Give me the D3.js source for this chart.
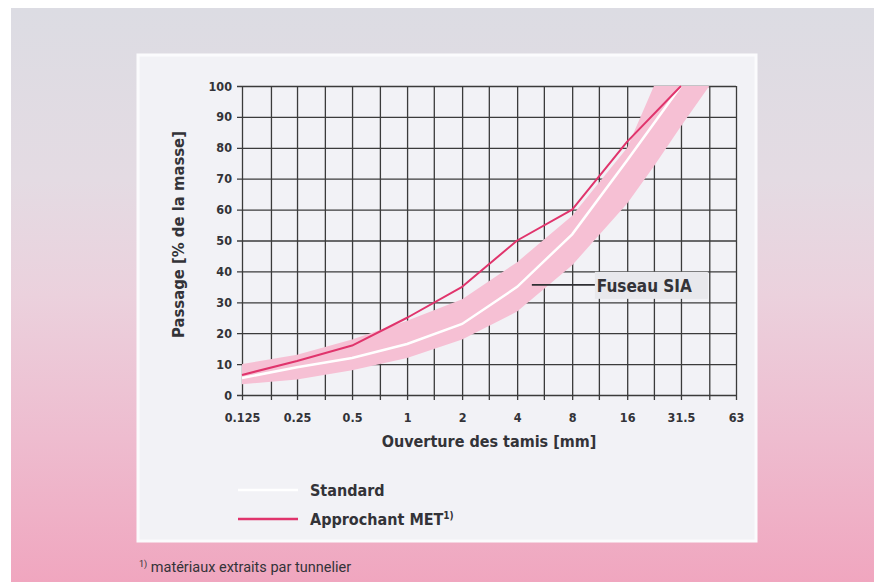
<!DOCTYPE html>
<html>
<head>
<meta charset="utf-8">
<script src="https://cdn.jsdelivr.net/npm/d3@7"></script>
<style>
    html, body { margin: 0; padding: 0; background: #ffffff; }
    svg { display: block; }
    .cond { font-family: "Liberation Sans Narrow", "DejaVu Sans Condensed", "Roboto Condensed", "Roboto", sans-serif; }
</style>
</head>
<body>
<div id="chart"></div>
<script>
// Sieve openings [mm] used for the labels and the grid
const tickSieves = [0.125, 0.25, 0.5, 1, 2, 4, 8, 16, 31.5, 63];
const tickLabels = ["0.125", "0.25", "0.5", "1", "2", "4", "8", "16", "31.5", "63"];
const gridSieves = [0.125, 0.18, 0.25, 0.355, 0.5, 0.71, 1, 1.4, 2, 2.8, 4, 5.6, 8, 11.2, 16, 22.4, 31.5, 45, 63];
const passTicks  = [0, 10, 20, 30, 40, 50, 60, 70, 80, 90, 100];

// Fuseau SIA (grading envelope)
const fuseauSieves = [0.125, 0.25, 0.5, 1, 2, 4, 8, 16, 22.4, 31.5, 45];
const fuseauLower  = [3.5, 5, 8, 12, 18, 27, 42, 62, 74, 87, 100];
const fuseauUpper  = [10, 13, 18, 24, 31, 43, 58, 80, 100, 100, 100];

// Grading curves
const curveSieves   = [0.125, 0.25, 0.5, 1, 2, 4, 8, 16, 31.5];
const standard      = [5.5, 9, 12, 16.5, 23, 35, 52, 76, 100];
const approchantMET = [6.5, 11, 16, 25, 35, 50, 60, 82, 100];

const WIDTH  = 874;
const HEIGHT = 582;
const margin = {top: 86, left: 242, right: 138, bottom: 187};
const w = WIDTH - margin.left - margin.right;
const h = HEIGHT - margin.top - margin.bottom;

const TEXT  = "#333338";
const GRID  = "#3b3b3b";
const BAND  = "#f6c0d4";
const RED   = "#e0346c";

const svg = d3.select("#chart").append("svg")
    .attr("width", WIDTH)
    .attr("height", HEIGHT);

// Page background: grey at the top, pink at the bottom
const grad = svg.append("defs").append("linearGradient")
    .attr("id", "bg")
    .attr("x1", 0).attr("y1", 0).attr("x2", 0).attr("y2", 1);
[[0, "#dcdce3"], [0.3, "#e4dbe3"], [0.5, "#ebd1dd"], [0.75, "#eebccf"], [1, "#f0a6bf"]]
    .forEach(([o, c]) => grad.append("stop").attr("offset", o).attr("stop-color", c));

svg.append("rect")
    .attr("x", 11).attr("y", 8)
    .attr("width", WIDTH - 11).attr("height", HEIGHT - 8)
    .attr("fill", "url(#bg)");

// Light panel behind the chart
svg.append("rect")
    .attr("x", 138).attr("y", 55)
    .attr("width", 618).attr("height", 486)
    .attr("fill", "#f2f2f6")
    .attr("stroke", "#fbfbfd")
    .attr("stroke-width", 3);

const x = d3.scaleLog().base(2).domain([0.125, 63]).range([0, w]);
const y = d3.scaleLinear().domain([0, 100]).range([h, 0]);

const g = svg.append("g").attr("transform", `translate(${margin.left},${margin.top})`);

// Horizontal grid + y labels
const yAxis = g.append("g")
    .attr("class", "cond")
    .attr("transform", "translate(-5,0)")
    .call(d3.axisLeft(y).tickValues(passTicks).tickSize(-(w + 5)).tickPadding(5));

// Vertical grid + x labels
const xAxis = g.append("g")
    .attr("class", "cond")
    .attr("transform", `translate(0,${h + 5})`)
    .call(d3.axisBottom(x)
        .tickValues(gridSieves)
        .tickSize(-(h + 5))
        .tickPadding(13)
        .tickFormat((d) => {
            const i = tickSieves.indexOf(d);
            return i >= 0 ? tickLabels[i] : "";
        }));

[yAxis, xAxis].forEach((a) => {
    a.select(".domain").remove();
    a.selectAll(".tick line").attr("stroke", GRID).attr("stroke-width", 1.3);
    a.selectAll(".tick text")
        .attr("fill", TEXT)
        .attr("font-size", 12.5)
        .attr("font-weight", "bold");
});

// Fuseau SIA band
const band = fuseauSieves.map((s, i) => ({s, lo: fuseauLower[i], hi: fuseauUpper[i]}));
g.append("path")
    .datum(band)
    .attr("fill", BAND)
    .attr("d", d3.area()
        .x((d) => x(d.s))
        .y0((d) => y(d.lo))
        .y1((d) => y(d.hi)));

const line = d3.line()
    .x((d) => x(d.s))
    .y((d) => y(d.v));

g.append("path")
    .datum(curveSieves.map((s, i) => ({s, v: standard[i]})))
    .attr("fill", "none")
    .attr("stroke", "#ffffff")
    .attr("stroke-width", 2.5)
    .attr("d", line);

g.append("path")
    .datum(curveSieves.map((s, i) => ({s, v: approchantMET[i]})))
    .attr("fill", "none")
    .attr("stroke", RED)
    .attr("stroke-width", 2)
    .attr("stroke-linejoin", "round")
    .attr("d", line);

// Fuseau SIA label with leader line
const lx = x(5.6) - 12;
const ly = y(35) - 2;
g.append("rect")
    .attr("x", lx + 63).attr("y", ly - 13)
    .attr("width", 113).attr("height", 27)
    .attr("fill", "#e8e8ec");
g.append("line")
    .attr("x1", lx).attr("x2", lx + 63)
    .attr("y1", ly).attr("y2", ly)
    .attr("stroke", "#2f2f33")
    .attr("stroke-width", 1.6);
g.append("text")
    .attr("class", "cond")
    .attr("x", lx + 65).attr("y", ly + 7)
    .attr("fill", TEXT)
    .attr("font-size", 17)
    .attr("font-weight", "bold")
    .text("Fuseau SIA");

// Axis titles
svg.append("text")
    .attr("class", "cond")
    .attr("x", margin.left + w / 2).attr("y", 447)
    .attr("text-anchor", "middle")
    .attr("fill", TEXT)
    .attr("font-size", 16)
    .attr("font-weight", "bold")
    .text("Ouverture des tamis [mm]");

svg.append("text")
    .attr("class", "cond")
    .attr("transform", `translate(184,${margin.top + h / 2 - 6}) rotate(-90)`)
    .attr("text-anchor", "middle")
    .attr("fill", TEXT)
    .attr("font-size", 16.5)
    .attr("font-weight", "bold")
    .text("Passage [% de la masse]");

// Legend
const legend = [
    {label: "Standard", color: "#ffffff", y: 490},
    {label: "Approchant MET", color: RED, y: 519, sup: "1)"}
];
const lg = svg.append("g").attr("class", "cond");
legend.forEach((d) => {
    lg.append("line")
        .attr("x1", 238).attr("x2", 298)
        .attr("y1", d.y).attr("y2", d.y)
        .attr("stroke", d.color)
        .attr("stroke-width", 2.5);
    const t = lg.append("text")
        .attr("x", 310).attr("y", d.y + 6)
        .attr("fill", TEXT)
        .attr("font-size", 16)
        .attr("font-weight", "bold")
        .text(d.label);
    if (d.sup) {
        t.append("tspan")
            .attr("dy", -6)
            .attr("font-size", 10)
            .text(d.sup);
    }
});

// Footnote
const fn = svg.append("text")
    .attr("x", 139).attr("y", 572)
    .attr("fill", TEXT)
    .attr("font-family", "Roboto, 'Noto Sans', sans-serif")
    .attr("font-size", 14.5);
fn.append("tspan").attr("font-size", 9).attr("dy", -5).text("1)");
fn.append("tspan").attr("dy", 5).text(" matériaux extraits par tunnelier");
</script>
</body>
</html>
